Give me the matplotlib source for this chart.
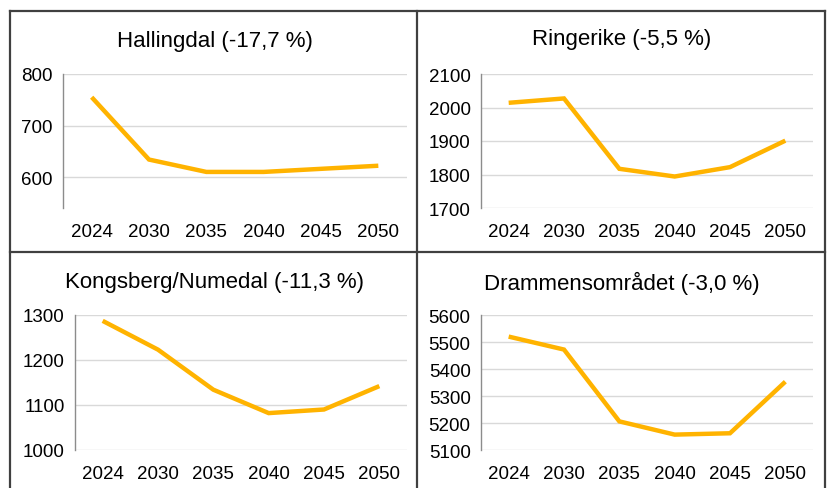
'''
Befolkningsframskriving per region, 2024-2050
'''

import matplotlib
matplotlib.use('Agg')
import matplotlib.pyplot as plt
from matplotlib.lines import Line2D

plt.rcParams['font.family'] = ['Liberation Sans', 'DejaVu Sans']

### Data
years = ['2024', '2030', '2035', '2040', '2045', '2050']

hallingdal = [755, 634, 610, 610, 616, 622]
ringerike = [2014, 2027, 1817, 1794, 1822, 1901]
kongsberg = [1287, 1223, 1134, 1082, 1090, 1142]
drammen = [5520, 5472, 5206, 5157, 5162, 5353]

titles = ['Hallingdal (-17,7 %)', 'Ringerike (-5,5 %)',
          'Kongsberg/Numedal (-11,3 %)', 'Drammensområdet (-3,0 %)']
series = [hallingdal, ringerike, kongsberg, drammen]
ylims = [(540, 800), (1700, 2100), (1000, 1300), (5100, 5600)]
yticks = [[600, 700, 800], [1700, 1800, 1900, 2000, 2100],
          [1000, 1100, 1200, 1300], [5100, 5200, 5300, 5400, 5500, 5600]]


### Layout (pixels)
W, H = 828, 489
fig = plt.figure(figsize=(W / 100, H / 100), dpi=100)

# plot area boxes: left, top, right, bottom
boxes = [(63, 75, 407, 209), (481, 75, 813, 209),
         (75, 316, 407, 451), (481, 316, 813, 451)]
title_pos = [(215, 42), (622, 40), (215, 283), (622, 283)]

for i in range(4):
    l, t, r, b = boxes[i]
    ax = fig.add_axes([l / W, 1 - b / H, (r - l) / W, (b - t) / H])
    ax.plot(range(len(years)), series[i], color='#FFB300', lw=3.2,
            solid_joinstyle='miter', solid_capstyle='butt')
    ax.set_xlim(-0.5, len(years) - 0.5)
    ax.set_ylim(*ylims[i])
    ax.set_xticks(range(len(years)))
    ax.set_xticklabels(years)
    ax.set_yticks(yticks[i])
    ax.grid(axis='y', color='#D9D9D9', lw=1)
    ax.set_axisbelow(True)
    for s in ['top', 'right', 'bottom']:
        ax.spines[s].set_visible(False)
    ax.spines['left'].set_color('#8C8C8C')
    ax.spines['left'].set_linewidth(1)
    ax.tick_params(axis='both', length=0, labelsize=13.5, colors='black')
    ax.tick_params(axis='x', pad=11)
    ax.tick_params(axis='y', pad=7.5)
    tx, ty = title_pos[i]
    fig.text(tx / W, 1 - ty / H, titles[i], ha='center', va='center', fontsize=16)


### Frame
frame = dict(color='#404040', lw=1.6, transform=fig.transFigure)
fig.add_artist(Line2D([10 / W, 10 / W], [1 - 12 / H, 0], **frame))
fig.add_artist(Line2D([825 / W, 825 / W], [1 - 12 / H, 0], **frame))
fig.add_artist(Line2D([417 / W, 417 / W], [1 - 12 / H, 0], **frame))
fig.add_artist(Line2D([10 / W, 825 / W], [1 - 12 / H, 1 - 12 / H], **frame))
fig.add_artist(Line2D([10 / W, 825 / W], [1 - 253 / H, 1 - 253 / H], **frame))

fig.savefig('out.png', dpi=100)
